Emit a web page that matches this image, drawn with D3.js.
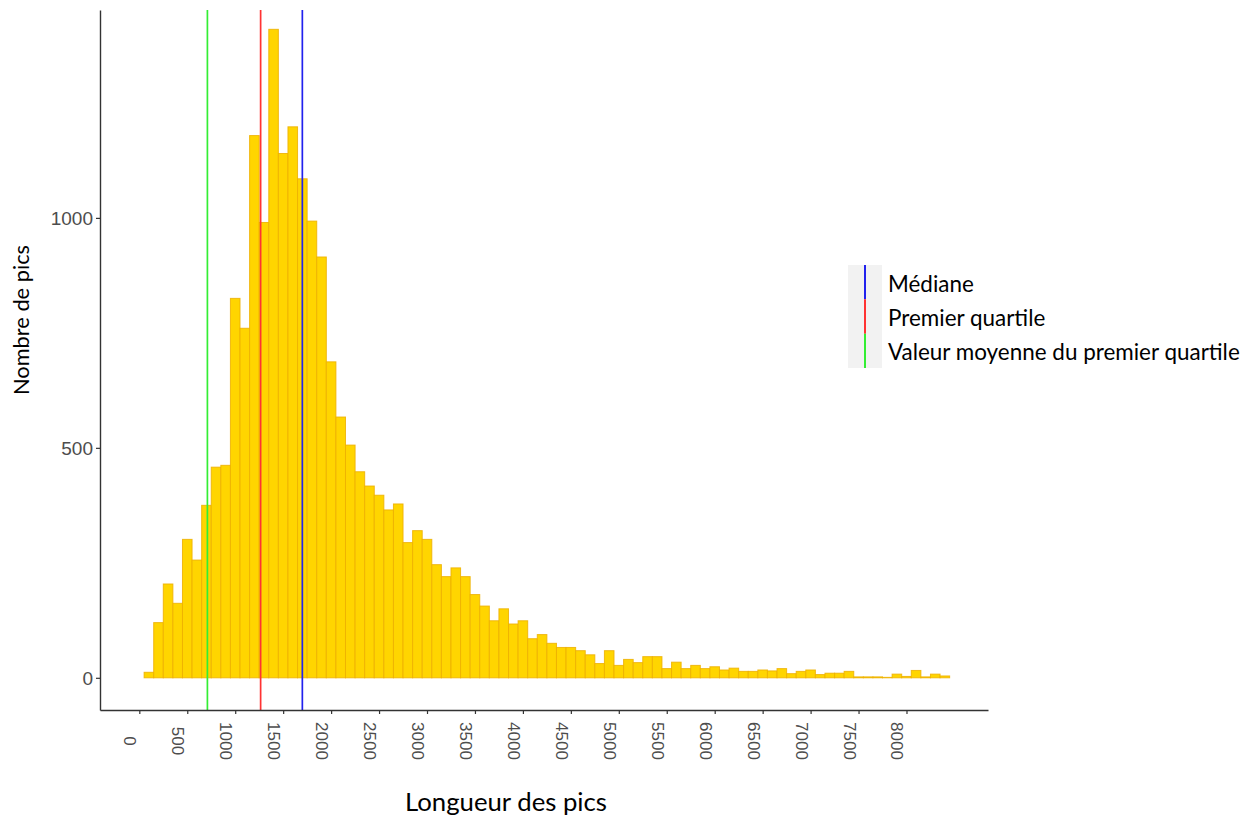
<!DOCTYPE html>
<html>
<head>
<meta charset="utf-8">
<script src="https://cdn.jsdelivr.net/npm/d3@7"></script>
<style>
  html, body { margin: 0; padding: 0; background: #ffffff; }
  svg { display: block; }
</style>
</head>
<body>
<svg id="chart" width="1251" height="818"></svg>
<script>
// ---- data ----
const binCenters = [100,200,300,400,500,600,700,800,900,1000,
  1100,1200,1300,1400,1500,1600,1700,1800,1900,2000,
  2100,2200,2300,2400,2500,2600,2700,2800,2900,3000,
  3100,3200,3300,3400,3500,3600,3700,3800,3900,4000,
  4100,4200,4300,4400,4500,4600,4700,4800,4900,5000,
  5100,5200,5300,5400,5500,5600,5700,5800,5900,6000,
  6100,6200,6300,6400,6500,6600,6700,6800,6900,7000,
  7100,7200,7300,7400,7500,7600,7700,7800,7900,8000,
  8100,8200,8300,8400];
const counts = [12,120,204,162,301,256,375,458,462,825,
  760,1179,990,1410,1140,1198,1085,993,915,687,
  567,506,448,417,397,365,378,294,320,301,
  246,220,239,220,181,156,124,150,117,124,
  85,94,75,66,66,59,50,31,59,27,
  40,33,46,46,20,34,20,27,20,24,
  17,21,14,14,17,15,20,9,14,17,
  7,10,10,14,2,2,2,1,8,3,
  16,2,8,4];
const binWidth = 100;
const xTicks = [0,500,1000,1500,2000,2500,3000,3500,4000,4500,5000,5500,6000,6500,7000,7500,8000];
const yTicks = [0,500,1000];
const refNames = ["Médiane", "Premier quartile", "Valeur moyenne du premier quartile"];
const refValues = [1700, 1265, 710];
const refColors = ["#2222ee", "#ff3333", "#33ee33"];
const xTitle = "Longueur des pics";
const yTitle = "Nombre de pics";

// ---- layout ----
const svg = d3.select("#chart");
const x = d3.scaleLinear().domain([-410, 8850]).range([100, 988]);
const y = d3.scaleLinear().domain([-70, 1452]).range([710, 10]);
const bins = binCenters.map((c, i) => ({ x0: c - binWidth / 2, x1: c + binWidth / 2, n: counts[i] }));

function fitText(sel, target, base) {
  sel.style("font-size", base + "px");
  const L = sel.node().getComputedTextLength();
  sel.style("font-size", (base * target / L) + "px");
}

// bars
svg.append("g").selectAll("rect").data(bins).join("rect")
  .attr("x", d => x(d.x0))
  .attr("width", d => x(d.x1) - x(d.x0))
  .attr("y", d => y(d.n))
  .attr("height", d => y(0) - y(d.n))
  .attr("fill", "#FFD500")
  .attr("stroke", "#EDB000")
  .attr("stroke-opacity", 0.85)
  .attr("stroke-width", 1);

// reference lines
svg.append("g").selectAll("line").data(refValues).join("line")
  .attr("x1", d => x(d)).attr("x2", d => x(d))
  .attr("y1", y.range()[1]).attr("y2", y.range()[0])
  .attr("stroke", (d, i) => refColors[i])
  .attr("stroke-width", 1.7);

// x axis
const gx = svg.append("g").attr("transform", "translate(0,710)")
  .call(d3.axisBottom(x).tickValues(xTicks).tickSize(4).tickSizeOuter(0).tickFormat(d3.format("d")));
gx.select(".domain").attr("stroke", "#333").attr("stroke-width", 1.4);
gx.selectAll(".tick line").attr("stroke", "#333").attr("stroke-width", 1.2);
gx.selectAll(".tick text")
  .attr("x", null).attr("y", null).attr("dy", null)
  .attr("transform", "translate(-10,31) rotate(90)")
  .attr("text-anchor", "middle")
  .attr("dominant-baseline", "central")
  .attr("fill", "#4d4d4d")
  .style("font-family", "'Liberation Sans', Arial, sans-serif")
  .style("font-size", "17px");

// y axis
const gy = svg.append("g").attr("transform", "translate(100,0)")
  .call(d3.axisLeft(y).tickValues(yTicks).tickSize(4).tickPadding(3).tickSizeOuter(0).tickFormat(d3.format("d")));
gy.select(".domain").attr("stroke", "#333").attr("stroke-width", 1.4);
gy.selectAll(".tick line").attr("stroke", "#333").attr("stroke-width", 1.2);
gy.selectAll(".tick text")
  .attr("fill", "#4d4d4d")
  .attr("dy", "0.36em")
  .style("font-family", "'Liberation Sans', Arial, sans-serif")
  .style("font-size", "19px");

// axis titles
const xt = svg.append("text").text(xTitle)
  .attr("x", 506).attr("y", 811)
  .attr("text-anchor", "middle")
  .attr("fill", "#000")
  .style("font-family", "Lato, 'Open Sans', sans-serif");
fitText(xt, 202, 24);

const yt = svg.append("text").text(yTitle)
  .attr("transform", "translate(29,320) rotate(-90)")
  .attr("text-anchor", "middle")
  .attr("fill", "#000")
  .style("font-family", "Lato, 'Open Sans', sans-serif");
fitText(yt, 150, 22);

// legend
const lg = svg.append("g");
lg.append("rect").attr("x", 848).attr("y", 265).attr("width", 34).attr("height", 103).attr("fill", "#f2f2f2");
const rowY = d3.scaleBand().domain(refNames).range([265, 368]);
lg.selectAll("line").data(refNames).join("line")
  .attr("x1", 865).attr("x2", 865)
  .attr("y1", d => rowY(d)).attr("y2", d => rowY(d) + rowY.bandwidth())
  .attr("stroke", (d, i) => refColors[i])
  .attr("stroke-width", 2);
const lt = lg.selectAll("text").data(refNames).join("text")
  .text(d => d)
  .attr("x", 888)
  .attr("y", d => rowY(d) + rowY.bandwidth() / 2 + 1)
  .attr("dominant-baseline", "central")
  .attr("fill", "#000")
  .style("font-family", "Lato, 'Open Sans', sans-serif");
const longest = lt.filter((d, i) => i === 2);
longest.style("font-size", "20px");
const Lw = longest.node().getComputedTextLength();
lt.style("font-size", (20 * 352 / Lw) + "px");
</script>
</body>
</html>
